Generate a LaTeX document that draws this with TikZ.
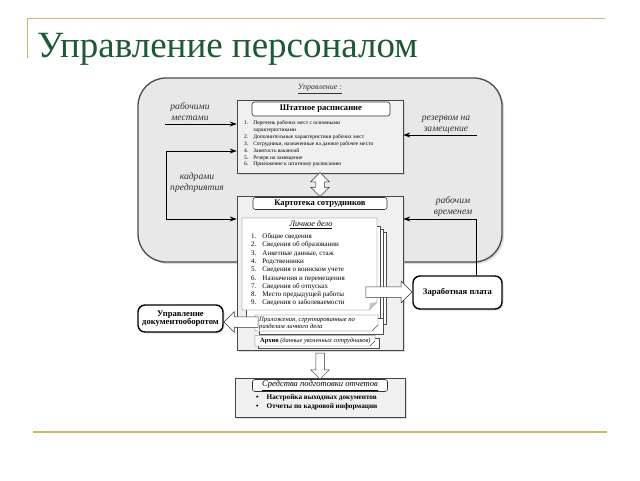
\documentclass[tikz,border=0pt]{standalone}
\usepackage{fontspec}
\setmainfont{Liberation Serif}
\usetikzlibrary{arrows.meta,shapes.arrows,shadows,calc}

\definecolor{titlegreen}{RGB}{30,88,52}
\definecolor{goldline}{RGB}{201,184,116}

\begin{document}
\begin{tikzpicture}[
    x=1pt, y=-1pt,
    region/.style={rectangle, rounded corners=28pt, draw=black!70, fill=gray!18, line width=1.3pt, drop shadow={shadow xshift=2pt, shadow yshift=-2pt, fill=gray!55}},
    panel/.style={rectangle, draw=gray!55!black, fill=gray!12, line width=0.6pt, drop shadow={shadow xshift=1.5pt, shadow yshift=-1.5pt, fill=gray!55}},
    head/.style={rectangle, rounded corners=2.5pt, draw=black!80, fill=white, line width=0.6pt, inner sep=0pt, font=\fontsize{8.6}{9}\selectfont\bfseries},
    outbox/.style={rectangle, rounded corners=7pt, draw=black, fill=white, line width=1.4pt, align=center, inner sep=1pt, font=\fontsize{8.6}{8.6}\selectfont\bfseries, drop shadow={shadow xshift=1.5pt, shadow yshift=-1.5pt, fill=gray!55}},
    page/.style={draw=gray!60!black, fill=white, line width=0.4pt},
    lbl/.style={font=\fontsize{9.6}{11}\selectfont\itshape, align=center, text=black!80, inner sep=0pt},
    flow/.style={-{Stealth[length=7pt,width=5pt]}, line width=0.9pt},
    sglarrow/.style={single arrow, draw=black!80, fill=white, line width=0.5pt, inner sep=4pt, single arrow head extend=5pt}, % polye strelki
    dblarrow/.style={double arrow, draw=black!80, fill=white, line width=0.5pt, inner sep=4pt, double arrow head extend=5pt}
]
\useasboundingbox (0,0) rectangle (640,480);

\draw[goldline, line width=1pt] (27,58) -- (27,18) -- (605,18);
\draw[goldline, line width=2pt] (33,432) -- (607,432);
\node[anchor=base west, inner sep=0pt, font=\fontsize{37}{40}\selectfont, text=titlegreen] (title) at (37,57) {Управление персоналом};

% Upravlenie
\node[region, minimum width=364pt, minimum height=184pt] (manage) at (320,170) {};
\node[lbl, font=\fontsize{8}{9}\selectfont\itshape] (managelbl) at (320,89) {\underline{Управление :}};

% Shtatnoe raspisanie
\node[panel, minimum width=166pt, minimum height=73pt] (shtat) at (320,136.5) {};
\node[head, minimum width=138pt, minimum height=14pt] (shtathead) at (321,109) {Штатное расписание};
\node[anchor=north west, inner sep=0pt, font=\fontsize{5.5}{6.9}\selectfont] (shtatlist) at (244,119.5) {%
    \begin{tabular}{@{}l@{\hspace{5pt}}l@{}}
    1. & Перечень рабочих мест с основными\\
       & характеристиками\\
    2. & Дополнительные характеристики рабочих мест\\
    3. & Сотрудники, назначенные на данное рабочее место\\
    4. & Занятость вакансий\\
    5. & Резерв на замещение\\
    6. & Приложение к штатному расписанию
    \end{tabular}};

% Kartoteka
\node[panel, minimum width=166pt, minimum height=154pt] (kart) at (320,273) {};
\node[head, minimum width=134pt, minimum height=12pt] (karthead) at (320,203.5) {Картотека сотрудников};
\foreach \dx/\dy in {9/14,6/11,3/8}
    \draw[page] (243+\dx,218+\dy) rectangle (377+\dx,310+\dy);
\draw[page] (242,218) -- (377,218) -- (377,302) -- (369,310) -- (242,310) -- cycle;
\fill[gray!45] (377,302) -- (369,310) -- (370,303) -- cycle;
\node[font=\fontsize{8.2}{9}\selectfont\itshape, inner sep=0pt] (delotitle) at (311,225) {\underline{Личное дело}};
\node[anchor=north west, inner sep=0pt, font=\fontsize{7}{8.3}\selectfont] (delolist) at (251,232.5) {%
    \begin{tabular}{@{}l@{\hspace{6pt}}l@{}}
    1. & Общие сведения\\
    2. & Сведения об образовании\\
    3. & Анкетные данные, стаж\\
    4. & Родственники\\
    5. & Сведения о воинском учете\\
    6. & Назначения и перемещения\\
    7. & Сведения об отпусках\\
    8. & Место предыдущей работы\\
    9. & Сведения о заболеваемости
    \end{tabular}};
\draw[page] (259,318) rectangle (383,334);
\draw[page] (255,315) -- (378,315) -- (378,325) -- (372,331) -- (255,331) -- cycle;
\node[anchor=west, align=left, inner sep=0pt, font=\fontsize{6.6}{7.3}\selectfont\itshape] (applbl) at (259,323.5) {Приложения, сгруппированные по\\разделам личного дела};
\draw[page] (258,338) rectangle (379,348);
\draw[page] (255,335.5) -- (375,335.5) -- (375,341) -- (370,346) -- (255,346) -- cycle;
\node[anchor=west, inner sep=0pt, font=\fontsize{6.4}{7}\selectfont] (archlbl) at (260,341) {\textbf{Архив} \textit{(данные уволенных сотрудников)}};

% Sredstva
\node[panel, minimum width=170pt, minimum height=39pt] (reports) at (320,397.5) {};
\node[head, minimum width=135pt, minimum height=12pt, font=\fontsize{8.6}{10}\selectfont\itshape] (reportshead) at (320,385.5) {\underline{Средства подготовки отчетов}};
\node[anchor=north west, align=left, inner sep=0pt, font=\fontsize{7.2}{9.5}\selectfont\bfseries] (reportlist) at (256,394) {\textbullet\hspace{8pt}Настройка выходных документов\\\textbullet\hspace{8pt}Отчеты по кадровой информации};

\node[outbox, minimum width=89pt, minimum height=33pt] (salary) at (457.5,292.5) {Заработная плата};
\node[outbox, minimum width=85pt, minimum height=27pt] (docflow) at (180.5,318.5) {Управление\\документооборотом};

\node[dblarrow, shape border rotate=90, minimum height=24pt, minimum width=18pt] (linkarrow) at ($(shtat.south)!0.5!(kart.north)$) {};
\node[sglarrow, shape border rotate=270, minimum height=26pt, minimum width=18pt] (reparrow) at ($(kart.south)!0.5!(reports.north)$) {};
\node[sglarrow, anchor=tip, minimum height=46pt, minimum width=21pt, inner sep=5pt, single arrow head extend=5.5pt] (payarrow) at ([yshift=0.5pt]salary.west) {};
\node[sglarrow, anchor=tip, shape border rotate=180, minimum height=34pt, minimum width=19pt, inner sep=5pt] (docarrow) at ([yshift=-3.5pt]docflow.east) {};

% vkhody
\coordinate (mestastart) at (165,124);
\draw[flow] (mestastart) -- (mestastart -| shtat.west);
\node[lbl] (mestalbl) at (190,112) {рабочими\\местами};
\coordinate (kadrtop) at (166,151);
\coordinate (kadrbot) at (166,219);
\draw[flow, {Stealth[length=7pt,width=5pt]}-{Stealth[length=7pt,width=5pt]}] (shtat.west |- kadrtop) -- (kadrtop) -- (kadrbot) -- (kart.west |- kadrbot);
\node[lbl] (kadrlbl) at (197,182.5) {кадрами\\предприятия};
\coordinate (rezstart) at (477,135);
\draw[flow] (rezstart) -- (rezstart -| shtat.east);
\node[lbl] (rezlbl) at (446,124.5) {резервом на\\замещение};
\coordinate (vremcorner) at (476,219);
\draw[flow] (vremcorner |- salary.north) -- (vremcorner) -- (vremcorner -| kart.east);
\node[lbl] (vremlbl) at (453,206.5) {рабочим\\временем};
\end{tikzpicture}
\end{document}
